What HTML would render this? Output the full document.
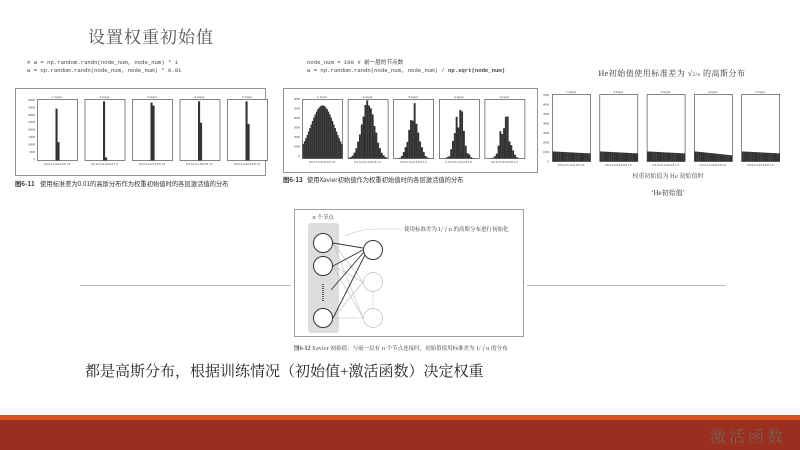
<!DOCTYPE html>
<html><head><meta charset="utf-8">
<style>
html,body{margin:0;padding:0;background:#fff;}
body{width:800px;height:450px;overflow:hidden;position:relative;font-family:"Liberation Serif","Noto Serif CJK SC",serif;}
svg{position:absolute;left:0;top:0;}
</style></head>
<body>
<svg id="s" width="800" height="450" viewBox="0 0 800 450" xmlns="http://www.w3.org/2000/svg">
<rect x="0" y="0" width="800" height="450" fill="#fff"/>
<text x="88" y="43" font-size="17" fill="#555" letter-spacing="1" font-family="Liberation Serif,'Noto Serif CJK SC',serif">设置权重初始值</text>

<g font-family="Liberation Mono,monospace" font-size="5.6" fill="#444">
<text x="27" y="64">&#35; w = np.random.randn(node_num, node_num) * 1</text>
<text x="27" y="72">w = np.random.randn(node_num, node_num) * 0.01</text>
<text x="307" y="64">node_num = 100 &#35; <tspan font-family="Noto Sans CJK SC,sans-serif">前一层的节点数</tspan></text>
<text x="307" y="72">w = np.random.randn(node_num, node_num) / <tspan font-weight="bold">np.sqrt(node_num)</tspan></text>
</g>

<rect x="15.5" y="88.5" width="250" height="87" fill="none" stroke="#777" stroke-width="0.8"/>
<rect x="283.5" y="88.5" width="254" height="84" fill="none" stroke="#777" stroke-width="0.8"/>
<g id="plots"></g>

<g font-family="Noto Sans CJK SC,sans-serif" font-size="6.3" fill="#333">
<text x="15" y="186" font-weight="bold">图6-11</text><text x="40" y="186">使用标准差为0.01的高斯分布作为权重初始值时的各层激活值的分布</text>
<text x="283" y="182" font-weight="bold">图6-13</text><text x="307" y="182">使用Xavier初始值作为权重初始值时的各层激活值的分布</text>
</g>
<text x="672" y="76" font-size="8" text-anchor="middle" fill="#333" letter-spacing="0.5" font-family="Liberation Serif,'Noto Serif CJK SC',serif">He初始值使用标准差为 √<tspan font-size="5">2/n</tspan> 的高斯分布</text>
<text x="668" y="178" font-size="6" text-anchor="middle" fill="#444" font-family="Noto Serif CJK SC,serif">权重初始值为 He 初始值时</text>
<text x="668" y="195" font-size="7" text-anchor="middle" fill="#333" font-family="Liberation Serif,'Noto Serif CJK SC',serif">‘He初始值’</text>

<line x1="80" y1="285.5" x2="291" y2="285.5" stroke="#bbb" stroke-width="1"/>
<line x1="527" y1="285.5" x2="726" y2="285.5" stroke="#bbb" stroke-width="1"/>

<rect x="294.5" y="209.5" width="229" height="127" fill="#fff" stroke="#888" stroke-width="0.8"/>
<rect x="308" y="223" width="31" height="110" rx="3" fill="#ddd"/>
<text x="323" y="219" font-size="5.5" text-anchor="middle" fill="#333" font-family="Noto Serif CJK SC,serif">n 个节点</text>
<g stroke="#bbb" stroke-width="0.6" fill="none">
<line x1="333" y1="243" x2="363" y2="282"/><line x1="333" y1="243" x2="363" y2="318"/>
<line x1="333" y1="266" x2="363" y2="282"/><line x1="333" y1="266" x2="363" y2="318"/>
<line x1="333" y1="318" x2="363" y2="282"/><line x1="333" y1="318" x2="363" y2="318"/>
<path d="M345 236 Q360 229 375 229 L402 229" stroke="#bbb"/>
</g>
<g stroke="#333" stroke-width="0.9" fill="none">
<line x1="333" y1="243" x2="363" y2="248"/><line x1="333" y1="266" x2="363" y2="250"/>
<line x1="331" y1="290" x2="364" y2="252"/><line x1="333" y1="318" x2="365" y2="255"/>
</g>
<line x1="323" y1="284" x2="323" y2="302" stroke="#333" stroke-width="1.5" stroke-dasharray="1,1"/>
<line x1="373" y1="292" x2="373" y2="306" stroke="#bbb" stroke-width="1" stroke-dasharray="1,1.5"/>
<g fill="#fff" stroke="#333" stroke-width="1">
<circle cx="323" cy="243" r="9.5"/><circle cx="323" cy="266" r="9.5"/><circle cx="323" cy="318" r="9.5"/>
<circle cx="373" cy="250" r="9.5"/>
</g>
<g fill="#fff" stroke="#ccc" stroke-width="0.9">
<circle cx="373" cy="282" r="9.5"/><circle cx="373" cy="318" r="9.5"/>
</g>
<text x="404" y="231" font-size="5.5" fill="#333" font-family="Noto Serif CJK SC,serif">使用标准差为 1/√n 的高斯分布进行初始化</text>
<text x="294" y="350" font-size="5.5" fill="#333" font-family="Noto Serif CJK SC,serif"><tspan font-weight="bold">图6-12</tspan>  Xavier 初始值：与前一层有 n 个节点连接时，初始值使用标准差为 1/√n 的分布</text>

<text x="85" y="376" font-size="15" fill="#222" font-family="Liberation Serif,'Noto Serif CJK SC',serif">都是高斯分布，根据训练情况（初始值+激活函数）决定权重</text>

<rect x="0" y="415" width="800" height="5" fill="#d9531e"/>
<rect x="0" y="420" width="800" height="30" fill="#9a2f20"/>
<text x="710" y="442" font-size="16" fill="#7a5e55" letter-spacing="3" font-family="Noto Serif CJK SC,serif">激活函数</text>
</svg>
<script>
(function(){
var g=document.getElementById('plots');var NS='http://www.w3.org/2000/svg';
function el(t,a){var e=document.createElementNS(NS,t);for(var k in a)e.setAttribute(k,a[k]);g.appendChild(e);return e;}
function txt(x,y,s,sz,anc){var e=el('text',{x:x,y:y,'font-size':sz,fill:'#333','text-anchor':anc||'middle','font-family':'Liberation Serif,serif'});e.textContent=s;}
function plot(x,y,w,h,bars,i){
  el('rect',{x:x+.5,y:y+.5,width:w,height:h,fill:'#fff',stroke:'#333','stroke-width':.6});
  var n=bars.length,bw=w/n;
  for(var j=0;j<n;j++){if(bars[j]<=0)continue;var bh=bars[j]*h;el('rect',{x:x+.5+j*bw,y:y+.5+h-bh,width:bw+.1,height:bh,fill:'#333'});}
  txt(x+w/2,y-1,i+'-layer',3.5);
  txt(x+w/2,y+h+5,'0.0 0.2 0.4 0.6 0.8 1.0',3);
}
function spike(c,v,v2,n){var a=[];for(var k=0;k<n;k++)a.push(0);a[c]=v;if(v2)a[c+1]=v2;return a;}
var P1=[spike(9,.85,.3,20),spike(9,.97,.05,20),spike(9,.95,.9,20),spike(9,.97,.62,20),spike(9,.97,.6,20)];
for(var i=0;i<5;i++)plot(37+i*47.5,99,40,61,P1[i],i+1);
function gauss(n,s,noise,seed,pk){var a=[];var r=seed;for(var k=0;k<n;k++){var t=(k+.5)/n-.5;var v=Math.exp(-t*t/(2*s*s));r=(r*9301+49297)%233280;v*=1-noise*(r/233280);a.push(v*pk);}return a;}
var sig=[.3,.16,.12,.11,.11],noi=[0,.1,.35,.5,.55],pk=[.9,1,1,1,1];
for(var i=0;i<5;i++)plot(302+i*45.6,99,40,59,gauss(i==0?30:22,sig[i],noi[i],i*77+5,pk[i]),i+1);
var yl=['6000','5000','4000','3000','2000','1000','0'];
for(var k=0;k<7;k++)txt(300,100+k*9.5,yl[k],3,'end');
var yl1=['40000','35000','30000','25000','20000','15000','10000','5000','0'];
for(var k=0;k<9;k++)txt(35,101+k*7.4,yl1[k],2.8,'end');
for(var i=0;i<5;i++){var a=[];for(var k=0;k<20;k++)a.push(.15-(i==3?k*.003:k*.0015));plot(552+i*47.3,94,38,67,a,i+1);}
var yl3=['7000','6000','5000','4000','3000','2000','1000','0'];
for(var k=0;k<8;k++)txt(549,96+k*9.5,yl3[k],3,'end');
})();
</script>
</body></html>
